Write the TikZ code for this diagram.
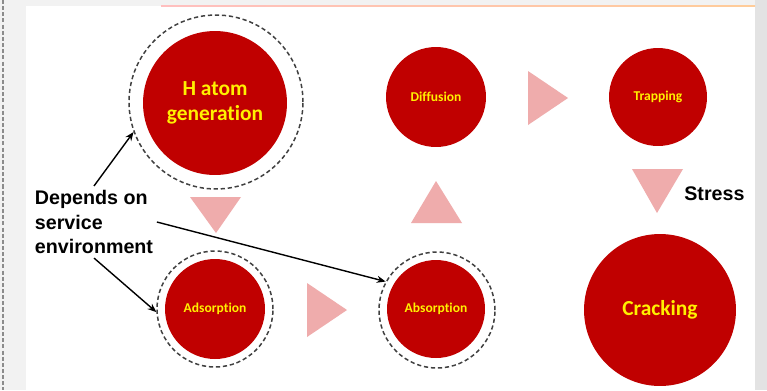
\documentclass[tikz,border=0pt]{standalone}
\usepackage{fontspec}
\setmainfont{Liberation Sans}
\newfontfamily\calibri[Ligatures=NoCommon]{Carlito}
\usetikzlibrary{arrows.meta}
\definecolor{discred}{HTML}{C00000}
\definecolor{labelyel}{HTML}{FFF000}
\definecolor{wedge}{HTML}{EFACAC}
\definecolor{pagegray}{HTML}{F2F2F2}
\definecolor{sidegray}{HTML}{E3E3E3}
\tikzstyle{disc} = [circle, fill=discred, inner sep=0pt, outer sep=0pt, text=labelyel, align=center, font=\calibri\bfseries]
\tikzstyle{ring} = [circle, draw=black!75, line width=0.85pt, dash pattern=on 2.4pt off 1.6pt, inner sep=0pt]
\tikzstyle{big} = [font=\calibri\bfseries\fontsize{12.2}{14.2}\selectfont]
\tikzstyle{small} = [font=\calibri\bfseries\fontsize{7.7}{9}\selectfont]
\tikzstyle{pointer} = [draw=black, line width=0.8pt, -{Stealth[length=5pt,width=4pt]}]

\begin{document}
\begin{tikzpicture}[x=0.02cm,y=-0.02cm]
			\useasboundingbox (0,0) rectangle (767,390);
			% slide background
			\fill[pagegray] (0,0) rectangle (767,390);
			\fill[sidegray] (755,0) rectangle (767,390);
			\fill[white] (26,6) rectangle (755,390);
			\shade[left color=red!25, right color=orange!40] (161,5) rectangle (755,6.6);
			\draw[black!45, line width=1.1pt, dash pattern=on 2.3pt off 1.2pt] (3,0)--(3,390);
			
			% rings and discs
			\node[ring,minimum size=3.48cm](hring) at (216,102){};
			\node[disc,big,minimum size=2.88cm](hgen) at (215,103){H atom\\generation};
			\node[disc,small,minimum size=2cm](diff) at (436,97){Diffusion};
			\node[disc,small,minimum size=1.96cm](trap) at (658,97){Trapping};
			\node[ring,minimum size=2.32cm](aring) at (215,309){};
			\node[disc,small,minimum size=2cm](ads) at (215,309){Adsorption};
			\node[ring,minimum size=2.32cm](bring) at (437,310){};
			\node[disc,small,minimum size=1.96cm](abs) at (436,309){Absorption};
			\node[disc,big,minimum size=3.04cm](crack) at (660,310){Cracking};
			
			% flow wedges
			\fill[wedge] (190,197)--(241,197)--(216,233)--cycle;
			\fill[wedge] (307,283)--(307,337)--(347,310)--cycle;
			\fill[wedge] (411,223)--(462,223)--(436,181)--cycle;
			\fill[wedge] (528,71)--(528,125)--(568,98)--cycle;
			\fill[wedge] (632,169)--(683,169)--(657,213)--cycle;
			
			\node[anchor=base west,font=\bfseries\fontsize{11.2}{14}\selectfont,inner sep=0pt](stress) at (684,200){Stress};
			\node[align=left,font=\bfseries\fontsize{11.2}{14.2}\selectfont,inner sep=2pt](env) at (94,222){Depends on\\service\\environment};
			
			\draw[pointer] (env.north)--(hring.200);
			\draw[pointer] (env.south)--(aring.183);
			\draw[pointer] (env.east)--(bring.151);
			\end{tikzpicture}
\end{document}
